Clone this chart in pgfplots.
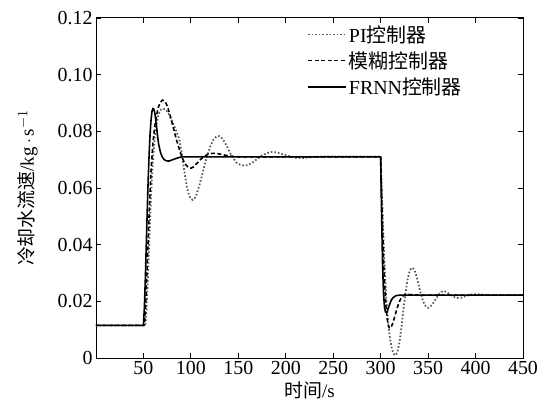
\documentclass[border=0pt]{standalone}
\usepackage{fontspec}
\setmainfont{Liberation Serif}
\newfontfamily\cjk{Noto Sans CJK SC}
\usepackage{pgfplots}
\pgfplotsset{compat=1.18}

\begin{document}
\begin{tikzpicture}
\begin{axis}[
  scale only axis, width=427bp, height=340bp,
  xmin=0, xmax=450, ymin=0, ymax=0.12,
  xtick={50,100,...,450},
  ytick={0,0.02,0.04,0.06,0.08,0.10,0.12},
  yticklabels={0,0.02,0.04,0.06,0.08,0.10,0.12},
  ticklabel style={font=\fontsize{20}{22}\selectfont},
  /pgf/number format/assume math mode=true,
  tick align=inside, major tick length=5bp,
  tick style={black, line width=0.8pt},
  axis line style={line width=1pt},
  xlabel={{\cjk 时间}/s},
  ylabel={{\cjk 冷却水流速}/kg\,$\cdot$\,s$^{-1}$},
  label style={font=\fontsize{19}{21}\selectfont},
  xlabel style={at={(axis description cs:0.5,-0.094)}, anchor=center},
  ylabel style={at={(axis description cs:-0.16,0.5)}, anchor=center},
  legend style={at={(0.494,0.985)}, anchor=north west, draw=none, fill=none,
    inner sep=0pt, font=\fontsize{20}{22}\selectfont, row sep=4pt, cells={anchor=west}},
  legend image code/.code={\draw[#1] (0bp,0bp) -- (38bp,0bp);},
  every axis plot/.append style={line width=1.6pt},
]
\addplot[gray!70!black, dotted, line width=1.8pt] coordinates {
(0,0.0115)(52,0.0115)(53,0.016)(54,0.023)(55,0.031)(56,0.040)(57,0.049)(58,0.057)(59,0.064)
(60,0.070)(62,0.078)(64,0.083)(66,0.086)(68,0.0875)(70,0.088)(73,0.0878)(76,0.0865)(79,0.0845)
(82,0.0822)(85,0.0798)(88,0.0770)(90,0.0730)(92,0.0685)(94,0.0640)(96,0.0600)(98,0.0575)
(100,0.0562)(102,0.0558)(104,0.0564)(106,0.0578)(109,0.0610)(112,0.0648)(115,0.0688)
(118,0.0722)(121,0.0752)(124,0.0772)(127,0.0782)(130,0.0783)(133,0.0775)(136,0.0760)
(139,0.0740)(142,0.0720)(145,0.0703)(148,0.0690)(152,0.0682)(156,0.0679)(160,0.0681)
(165,0.0690)(170,0.0703)(175,0.0715)(180,0.0723)(185,0.0727)(190,0.0726)(196,0.0720)
(203,0.0713)(210,0.0707)(218,0.0706)(228,0.0709)(240,0.0711)(300,0.0711)(301,0.061)
(302,0.051)(303,0.042)(304,0.034)(305,0.027)(306,0.021)(308,0.012)(310,0.0065)(312,0.003)
(314,0.0013)(316,0.0010)(318,0.0025)(320,0.0060)(322,0.0110)(324,0.0170)(326,0.0225)
(328,0.0270)(330,0.0300)(332,0.0316)(334,0.0318)(336,0.0308)(338,0.0285)(340,0.0258)
(342,0.0230)(344,0.0207)(346,0.0190)(348,0.0180)(350,0.0177)(352,0.0180)(355,0.0192)
(358,0.0208)(361,0.0223)(364,0.0233)(366,0.0237)(369,0.0234)(372,0.0227)(376,0.0217)
(380,0.0212)(385,0.0213)(390,0.0219)(396,0.0224)(402,0.0225)(410,0.0223)(420,0.0222)
(450,0.0222)};
\addlegendentry{PI{\cjk 控制器}}
\addplot[black, dash pattern=on 4bp off 2.5bp] coordinates {
(0,0.0115)(51,0.0115)(52,0.016)(53,0.024)(54,0.033)(55,0.042)(56,0.051)(57,0.059)(58,0.066)
(59,0.071)(60,0.076)(62,0.082)(64,0.086)(66,0.0888)(68,0.0903)(70,0.0910)(72,0.0908)
(74,0.0898)(76,0.0880)(78,0.0858)(80,0.0832)(82,0.0806)(85,0.0768)(88,0.0735)(91,0.0705)
(94,0.0685)(97,0.0673)(100,0.0670)(103,0.0675)(106,0.0686)(110,0.0700)(114,0.0712)
(118,0.0719)(122,0.0722)(127,0.0722)(133,0.0718)(140,0.0713)(150,0.0710)(300,0.0710)
(301,0.058)(302,0.046)(303,0.035)(304,0.027)(305,0.021)(306,0.0165)(307,0.0135)
(308,0.0117)(309,0.0107)(310,0.0105)(311,0.0108)(313,0.0125)(315,0.0148)(317,0.0172)
(319,0.0193)(321,0.0208)(323,0.0218)(326,0.0224)(330,0.0224)(340,0.0222)(450,0.0222)};
\addlegendentry{{\cjk 模糊控制器}}
\addplot[black] coordinates {
(0,0.0115)(50,0.0115)(51,0.018)(52,0.028)(53,0.040)(54,0.052)(55,0.063)(56,0.072)(57,0.079)
(58,0.084)(59,0.087)(60,0.088)(61,0.0878)(62,0.0865)(63,0.084)(64,0.081)(65,0.078)
(66,0.0755)(68,0.0725)(70,0.0708)(72,0.0700)(74,0.0696)(77,0.0695)(80,0.0699)(85,0.0705)
(90,0.0710)(300,0.0710)(300.5,0.06)(301,0.05)(302,0.033)(303,0.023)(304,0.018)(305,0.0163)
(306,0.0160)(307,0.0165)(309,0.0185)(311,0.0203)(313,0.0213)(316,0.022)(320,0.0222)
(450,0.0222)};
\addlegendentry{FRNN{\cjk 控制器}}
\end{axis}
\path (current axis.south west) ++(-96bp,-52bp) rectangle ++(549bp,410bp);
\end{tikzpicture}
\end{document}
